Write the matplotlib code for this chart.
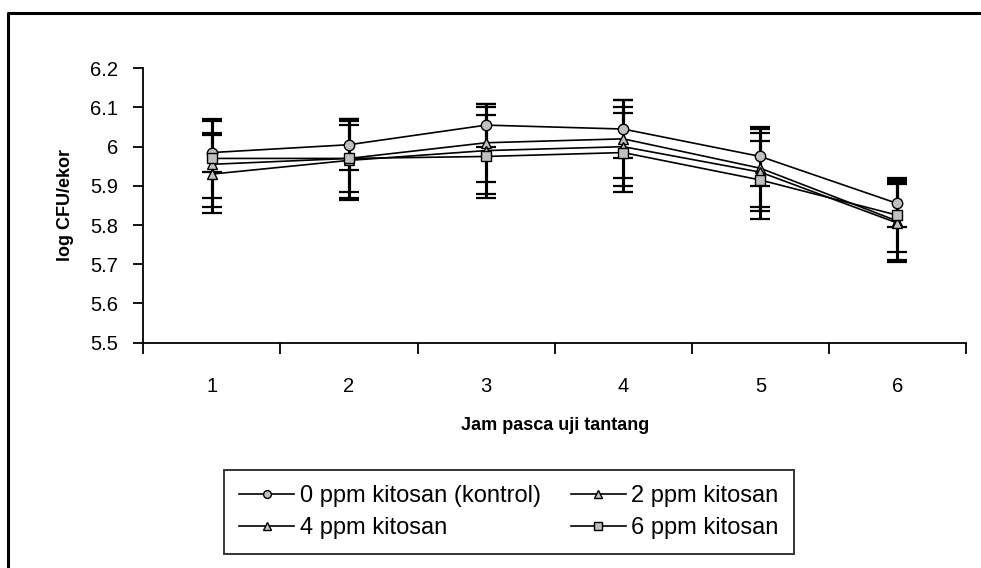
import matplotlib
matplotlib.use('Agg')
import matplotlib.pyplot as plt
from matplotlib.lines import Line2D
from matplotlib.ticker import FixedLocator, FuncFormatter

plt.rcParams['font.family'] = ['Liberation Sans', 'DejaVu Sans']

# data
jam = [1, 2, 3, 4, 5, 6]
labels = ['0 ppm kitosan (kontrol)', '2 ppm kitosan', '4 ppm kitosan', '6 ppm kitosan']
markers = ['o', '^', '^', 's']

ppm0 = [5.985, 6.005, 6.055, 6.045, 5.975, 5.855]
ppm2 = [5.955, 5.970, 6.010, 6.020, 5.945, 5.810]
ppm4 = [5.930, 5.965, 5.990, 6.000, 5.935, 5.805]
ppm6 = [5.970, 5.970, 5.975, 5.985, 5.915, 5.825]

err0 = [0.050, 0.065, 0.055, 0.075, 0.075, 0.060]
err2 = [0.110, 0.100, 0.100, 0.100, 0.100, 0.100]
err4 = [0.100, 0.100, 0.110, 0.100, 0.100, 0.100]
err6 = [0.100, 0.085, 0.105, 0.100, 0.100, 0.095]

series = [ppm0, ppm2, ppm4, ppm6]
errors = [err0, err2, err4, err6]

W, H = 981, 568
fig = plt.figure(figsize=(W / 100, H / 100), dpi=100)
ax = fig.add_axes([143.3 / W, 1 - 342.6 / H, (966 - 143.3) / W, (342.6 - 68.3) / H])

for vals, errs in zip(series, errors):
    ax.errorbar(jam, vals, yerr=errs, fmt='none', ecolor='black',
                elinewidth=2.2, capsize=7, capthick=1.6, zorder=2)

handles = []
for vals, lab, mk in zip(series, labels, markers):
    h, = ax.plot(jam, vals, color='black', lw=1.2, marker=mk, ms=7.5,
                 mfc='#c0c0c0', mec='black', mew=1.0, label=lab, zorder=3)
    handles.append(h)

ax.set_xlim(0.5, 6.5)
ax.set_ylim(5.5, 6.2)
ax.spines['top'].set_visible(False)
ax.spines['right'].set_visible(False)
for s in ['left', 'bottom']:
    ax.spines[s].set_linewidth(1.3)

ax.set_yticks([5.5, 5.6, 5.7, 5.8, 5.9, 6.0, 6.1, 6.2])
ax.yaxis.set_major_formatter(FuncFormatter(lambda v, p: '%g' % round(v, 1)))
ax.tick_params(axis='y', direction='out', length=7, width=1.3, labelsize=14.5, pad=11)

ax.set_xticks(jam)
ax.set_xticklabels([str(j) for j in jam])
ax.tick_params(axis='x', which='major', length=0, labelsize=14.5, pad=25)
ax.xaxis.set_minor_locator(FixedLocator([0.5, 1.5, 2.5, 3.5, 4.5, 5.5, 6.5]))
ax.tick_params(axis='x', which='minor', direction='out', length=8, width=1.3)

ax.set_ylabel('log CFU/ekor', fontsize=13, fontweight='bold', labelpad=12)
ax.set_xlabel('Jam pasca uji tantang', fontsize=13, fontweight='bold', labelpad=15)

# legend reads row by row: 0 ppm, 2 ppm / 4 ppm, 6 ppm
order = [0, 2, 1, 3]
leg = fig.legend(handles=[handles[i] for i in order], loc='upper left', ncol=2,
                 bbox_to_anchor=(224 / W, 1 - 470 / H), bbox_transform=fig.transFigure,
                 fontsize=17, frameon=True, fancybox=False, shadow=False,
                 handlelength=2.3, handletextpad=0.25, columnspacing=1.3,
                 labelspacing=0.4, borderpad=0.65, markerscale=0.75,
                 borderaxespad=0)
leg.get_frame().set_edgecolor('black')
leg.get_frame().set_linewidth(1.4)

# outer chart border (top and left edges visible)
fig.add_artist(Line2D([8 / W, 8 / W, 1.0], [0.0, 1 - 13 / H, 1 - 13 / H],
                      transform=fig.transFigure, color='black', lw=2.2))

fig.savefig('out.png', dpi=100)
